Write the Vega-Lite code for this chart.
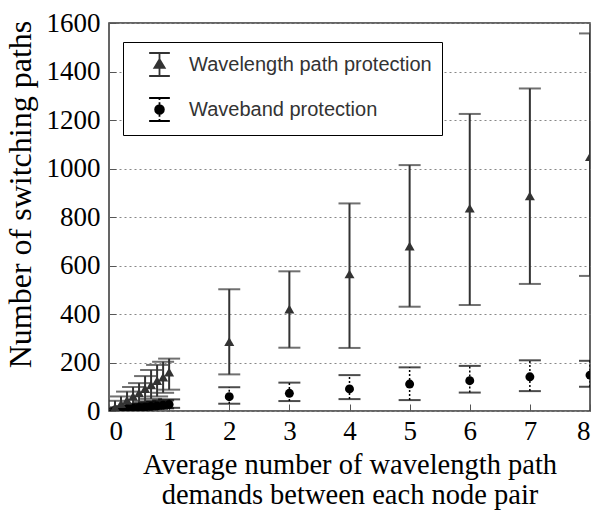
{
  "$schema": "https://vega.github.io/schema/vega-lite/v6.json",
  "autosize": {"type": "none"},
  "width": 481,
  "height": 388,
  "padding": {"left": 109, "top": 23, "right": 8, "bottom": 102},
  "background": "white",
  "config": {
    "view": {"stroke": "#333", "strokeWidth": 1.5},
    "axis": {
      "labelFont": "Liberation Serif",
      "labelFontSize": 27,
      "labelColor": "#000",
      "titleFont": "Liberation Serif",
      "titleColor": "#000",
      "titleFontWeight": "normal",
      "domain": false,
      "tickColor": "#555",
      "tickWidth": 1
    }
  },
  "datasets": {
    "pts": [
      {"x": 0.1, "series": "Wavelength path protection", "mean": 15, "lo": 3, "hi": 42},
      {"x": 0.2, "series": "Wavelength path protection", "mean": 30, "lo": 8, "hi": 60},
      {"x": 0.3, "series": "Wavelength path protection", "mean": 45, "lo": 15, "hi": 80},
      {"x": 0.4, "series": "Wavelength path protection", "mean": 60, "lo": 22, "hi": 99},
      {"x": 0.5, "series": "Wavelength path protection", "mean": 75, "lo": 30, "hi": 115},
      {"x": 0.6, "series": "Wavelength path protection", "mean": 92, "lo": 40, "hi": 144},
      {"x": 0.7, "series": "Wavelength path protection", "mean": 108, "lo": 50, "hi": 169},
      {"x": 0.8, "series": "Wavelength path protection", "mean": 125, "lo": 60, "hi": 190},
      {"x": 0.9, "series": "Wavelength path protection", "mean": 140, "lo": 75, "hi": 203},
      {"x": 1.0, "series": "Wavelength path protection", "mean": 160, "lo": 88, "hi": 216},
      {"x": 2, "series": "Wavelength path protection", "mean": 286, "lo": 151, "hi": 502},
      {"x": 3, "series": "Wavelength path protection", "mean": 420, "lo": 261, "hi": 576},
      {"x": 4, "series": "Wavelength path protection", "mean": 565, "lo": 260, "hi": 856},
      {"x": 5, "series": "Wavelength path protection", "mean": 680, "lo": 430, "hi": 1014},
      {"x": 6, "series": "Wavelength path protection", "mean": 836, "lo": 437, "hi": 1225},
      {"x": 7, "series": "Wavelength path protection", "mean": 887, "lo": 524, "hi": 1330},
      {"x": 8, "series": "Wavelength path protection", "mean": 1049, "lo": 557, "hi": 1557},
      {"x": 0.1, "series": "Waveband protection", "mean": 3, "lo": 0, "hi": 10},
      {"x": 0.2, "series": "Waveband protection", "mean": 6, "lo": 1, "hi": 15},
      {"x": 0.3, "series": "Waveband protection", "mean": 9, "lo": 2, "hi": 20},
      {"x": 0.4, "series": "Waveband protection", "mean": 11, "lo": 3, "hi": 24},
      {"x": 0.5, "series": "Waveband protection", "mean": 14, "lo": 5, "hi": 28},
      {"x": 0.6, "series": "Waveband protection", "mean": 16, "lo": 6, "hi": 32},
      {"x": 0.7, "series": "Waveband protection", "mean": 19, "lo": 8, "hi": 36},
      {"x": 0.8, "series": "Waveband protection", "mean": 21, "lo": 9, "hi": 40},
      {"x": 0.9, "series": "Waveband protection", "mean": 24, "lo": 11, "hi": 44},
      {"x": 1.0, "series": "Waveband protection", "mean": 27, "lo": 13, "hi": 48},
      {"x": 2, "series": "Waveband protection", "mean": 59, "lo": 30, "hi": 98},
      {"x": 3, "series": "Waveband protection", "mean": 73, "lo": 41, "hi": 117},
      {"x": 4, "series": "Waveband protection", "mean": 91, "lo": 49, "hi": 148},
      {"x": 5, "series": "Waveband protection", "mean": 111, "lo": 45, "hi": 180},
      {"x": 6, "series": "Waveband protection", "mean": 125, "lo": 76, "hi": 186},
      {"x": 7, "series": "Waveband protection", "mean": 141, "lo": 82, "hi": 209},
      {"x": 8, "series": "Waveband protection", "mean": 148, "lo": 100, "hi": 207}
    ]
  },
  "data": {"name": "pts"},
  "encoding": {
    "x": {
      "field": "x", "type": "quantitative",
      "scale": {"domain": [0, 8], "nice": false, "zero": false},
      "axis": {
        "values": [0, 1, 2, 3, 4, 5, 6, 7, 8],
        "format": "d",
        "grid": false,
        "tickSize": -7,
        "labelPadding": 14,
        "title": ["Average number of wavelength path", "demands between each node pair"],
        "titleFontSize": 28.5,
        "titlePadding": 6,
        "titleLineHeight": 30
      }
    }
  },
  "layer": [
    {
      "mark": {"type": "rule", "color": "#333", "strokeWidth": 2, "clip": true},
      "transform": [{"filter": "datum.series == 'Wavelength path protection'"}],
      "encoding": {
        "y": {
          "field": "lo", "type": "quantitative",
          "scale": {"domain": [0, 1600], "nice": false},
          "axis": {
            "values": [0, 200, 400, 600, 800, 1000, 1200, 1400, 1600],
            "format": "d",
            "grid": true,
            "gridColor": "#888",
            "gridDash": [2, 3],
            "gridWidth": 1,
            "tickSize": -7,
            "labelPadding": 16,
            "title": "Number of switching paths",
            "titleFontSize": 32,
            "titlePadding": 9,
            "titleY": 171
          }
        },
        "y2": {"field": "hi"}
      }
    },
    {
      "mark": {"type": "rule", "color": "#000", "strokeWidth": 1.5, "strokeDash": [2, 2], "clip": true},
      "transform": [{"filter": "datum.series == 'Waveband protection'"}],
      "encoding": {
        "y": {"field": "lo", "type": "quantitative"},
        "y2": {"field": "hi"}
      }
    },
    {
      "mark": {"type": "tick", "orient": "horizontal", "size": 22, "thickness": 2, "color": "#333", "clip": true},
      "transform": [{"filter": "datum.series == 'Wavelength path protection'"}],
      "encoding": {"y": {"field": "lo", "type": "quantitative"}}
    },
    {
      "mark": {"type": "tick", "orient": "horizontal", "size": 22, "thickness": 2, "color": "#333", "clip": true},
      "transform": [{"filter": "datum.series == 'Wavelength path protection'"}],
      "encoding": {"y": {"field": "hi", "type": "quantitative"}}
    },
    {
      "mark": {"type": "tick", "orient": "horizontal", "size": 22, "thickness": 2, "color": "#000", "clip": true},
      "transform": [{"filter": "datum.series == 'Waveband protection'"}],
      "encoding": {"y": {"field": "lo", "type": "quantitative"}}
    },
    {
      "mark": {"type": "tick", "orient": "horizontal", "size": 22, "thickness": 2, "color": "#000", "clip": true},
      "transform": [{"filter": "datum.series == 'Waveband protection'"}],
      "encoding": {"y": {"field": "hi", "type": "quantitative"}}
    },
    {
      "mark": {"type": "point", "filled": true, "opacity": 1, "shape": "circle", "size": 80, "clip": true},
      "transform": [{"filter": "datum.series == 'Waveband protection'"}],
      "encoding": {
        "y": {"field": "mean", "type": "quantitative"},
        "color": {"field": "series", "type": "nominal"}
      }
    },
    {
      "mark": {"type": "point", "filled": true, "opacity": 1, "shape": "triangle-up", "size": 100, "clip": true},
      "transform": [{"filter": "datum.series == 'Wavelength path protection'"}],
      "encoding": {
        "y": {"field": "mean", "type": "quantitative"},
        "color": {
          "field": "series", "type": "nominal",
          "scale": {"domain": ["Wavelength path protection", "Waveband protection"], "range": ["#333", "#000"]},
          "legend": {
            "title": null,
            "orient": "none",
            "legendX": 14,
            "legendY": 19,
            "padding": 10,
            "strokeColor": "#000",
            "fillColor": "white",
            "symbolSize": 529,
            "symbolOffset": 14,
            "symbolStrokeWidth": 1.8,
            "labelFont": "Liberation Sans",
            "labelFontSize": 20,
            "labelColor": "#333",
            "labelLimit": 400,
            "labelOffset": 17,
            "rowPadding": 14,
            "encoding": {
              "symbols": {
                "shape": {
                  "condition": {"test": "datum.value == 'Waveband protection'", "value": "M-0.9,-1H0.9M0,-1V-0.82M0,-0.64V-0.46M0,0.46V0.64M0,0.82V1M-0.9,1H0.9M0.38,0A0.38,0.38 0 1 1 -0.38,0A0.38,0.38 0 1 1 0.38,0Z"},
                  "value": "M-0.9,-1H0.9M0,-1V1M-0.9,1H0.9M-0.45,0.3L0,-0.45L0.45,0.3Z"
                },
                "stroke": {
                  "condition": {"test": "datum.value == 'Waveband protection'", "value": "#000"},
                  "value": "#333"
                },
                "size": {"value": 529},
                "strokeWidth": {"value": 1.8},
                "opacity": {"value": 1}
              }
            }
          }
        }
      }
    }
  ]
}
